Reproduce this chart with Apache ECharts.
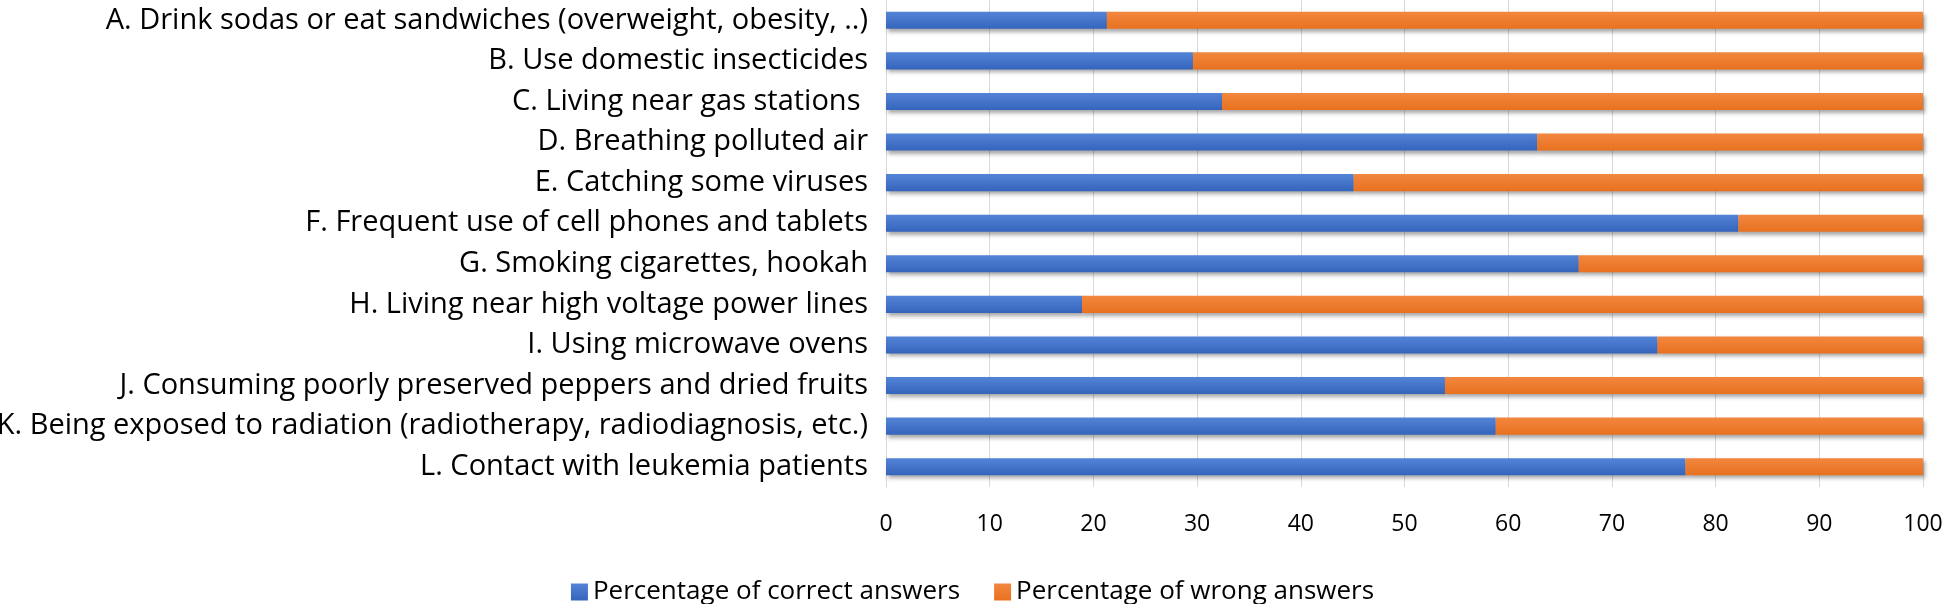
<!DOCTYPE html>
<html>
<head>
<meta charset="utf-8">
<script src="https://cdn.jsdelivr.net/npm/echarts@6/dist/echarts.min.js"></script>
<style>html,body{margin:0;padding:0;background:#fff}#c{width:1945px;height:604px}</style>
</head>
<body>
<div id="c"></div>
<script>
const categories = [
  "A. Drink sodas or eat sandwiches (overweight, obesity, ..)",
  "B. Use domestic insecticides",
  "C. Living near gas stations ",
  "D. Breathing polluted air",
  "E. Catching some viruses",
  "F. Frequent use of cell phones and tablets",
  "G. Smoking cigarettes, hookah",
  "H. Living near high voltage power lines",
  "I. Using microwave ovens",
  "J. Consuming poorly preserved peppers and dried fruits",
  "K. Being exposed to radiation (radiotherapy, radiodiagnosis, etc.)",
  "L. Contact with leukemia patients"
];
const correct = [21.3, 29.6, 32.4, 62.8, 45.1, 82.2, 66.8, 18.9, 74.4, 53.9, 58.8, 77.1];
const wrong   = [78.7, 70.4, 67.6, 37.2, 54.9, 17.8, 33.2, 81.1, 25.6, 46.1, 41.2, 22.9];
const seriesNames = ["Percentage of correct answers", "Percentage of wrong answers"];

const FONT = "Open Sans";
const chart = echarts.init(document.getElementById('c'));
function grad(top, bottom) {
  return new echarts.graphic.LinearGradient(0, 0, 0, 1, [
    {offset: 0, color: top}, {offset: 1, color: bottom}
  ]);
}
const shadow = {shadowColor: 'rgba(0,0,0,0.35)', shadowBlur: 4, shadowOffsetX: 2, shadowOffsetY: 3};
chart.setOption({
  animation: false,
  backgroundColor: '#fff',
  textStyle: {fontFamily: FONT},
  grid: {left: 886, right: 22, top: 0, bottom: 117, containLabel: false, outerBoundsMode: 'none'},
  legend: {
    top: 574, left: 'center',
    itemWidth: 17, itemHeight: 17, itemGap: 34,
    icon: 'rect',
    textStyle: {fontFamily: FONT, fontSize: 26, color: '#000'},
    data: seriesNames
  },
  xAxis: {
    type: 'value', min: 0, max: 100, interval: 10,
    axisLine: {show: false}, axisTick: {show: false},
    axisLabel: {fontFamily: FONT, fontSize: 23, color: '#000', margin: 26},
    splitLine: {show: true, lineStyle: {color: '#d9d9d9', width: 1}}
  },
  yAxis: {
    type: 'category', inverse: true, data: categories,
    axisLine: {show: true, lineStyle: {color: '#d9d9d9', width: 1}},
    axisTick: {show: false},
    axisLabel: {fontFamily: FONT, fontSize: 29, color: '#000', margin: 18}
  },
  series: [
    {
      name: seriesNames[0], type: 'bar', stack: 's', data: correct,
      barCategoryGap: '58%',
      itemStyle: Object.assign({color: grad('#5484d6', '#3564bd')}, shadow)
    },
    {
      name: seriesNames[1], type: 'bar', stack: 's', data: wrong,
      barCategoryGap: '58%',
      itemStyle: Object.assign({color: grad('#f2873f', '#e8711f')}, shadow)
    }
  ]
});
</script>
</body>
</html>
